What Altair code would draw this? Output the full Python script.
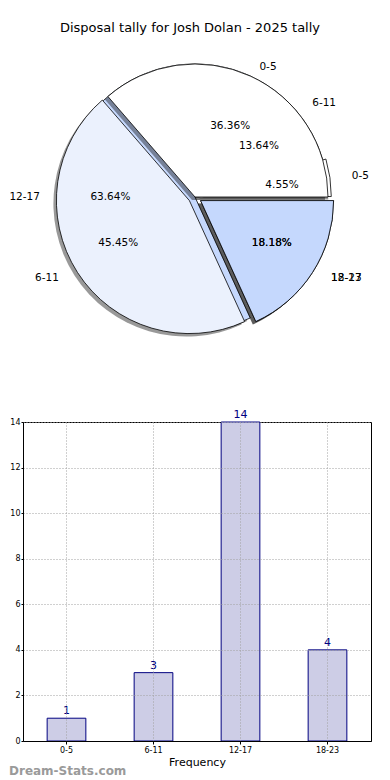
import altair as alt
import pandas as pd

# ---------------- data ----------------
categories = ["0-5", "6-11", "12-17", "18-23"]
counts = [1, 3, 14, 4]

# second (overlaid) pie as drawn in the reference
pie2_labels = ["0-5", "6-11", "12-17"]
pie2_counts = [8, 10, 4]

explode1 = [0.025, 0.0, 0.0, 0.05]
explode2 = [0.0, 0.05, 0.05]

wedge_colors = ["#ffffff", "#ebf1fd", "#c5d8fd", "#ffffff"]

title_text = "Disposal tally for Josh Dolan - 2025 tally"
x_title = "Frequency"
watermark = "Dream-Stats.com"

# ---------------- layout ----------------
FONT = "DejaVu Sans"
PW, PH = 348, 330          # pie panel
BW, BH = 348, 319          # bar panel
OX, OY = 22, 42            # page origin of the pie panel
CX, CY = 194 - OX, 196 - OY
R = 133
RX, RY = 141, 130


def pie_frame(labels, values, explode):
    return pd.DataFrame({
        "label": labels,
        "value": values,
        "idx": list(range(len(labels))),
        "explode": explode,
    })


def pie_base(df):
    return (
        alt.Chart(df)
        .transform_joinaggregate(total="sum(value)")
        .transform_window(cum="sum(value)", sort=[alt.SortField("idx")], frame=[None, 0])
        .transform_calculate(
            a_end="2*PI*datum.cum/datum.total",
            a_start="2*PI*(datum.cum-datum.value)/datum.total",
            mid="(datum.a_start+datum.a_end)/2",
            cx=f"{CX}+datum.explode*{R}*cos(datum.mid)",
            cy=f"{CY}-datum.explode*{R}*sin(datum.mid)",
            sx="datum.cx-3",
            sy="datum.cy+3",
            t1="PI/2-datum.a_end",
            t2="PI/2-datum.a_start",
            lx=f"datum.cx+1.1*{RX}*cos(datum.mid)",
            ly=f"datum.cy-1.1*{RY}*sin(datum.mid)",
            px=f"datum.cx+0.6*{RX}*cos(datum.mid)",
            py=f"datum.cy-0.6*{RY}*sin(datum.mid)",
            pct="format(100*datum.value/datum.total, '.2f') + '%'",
            right="cos(datum.mid) >= 0",
        )
    )


def pie_layers(df):
    b = pie_base(df)
    shadow = b.mark_arc(radius=R, fill="black", opacity=0.4).encode(
        x=alt.X("sx:Q", scale=None, axis=None),
        y=alt.Y("sy:Q", scale=None, axis=None),
        theta=alt.Theta("t1:Q", scale=None, stack=None),
        theta2="t2:Q",
    )
    wedges = b.mark_arc(radius=R, stroke="black", strokeWidth=0.8).encode(
        x=alt.X("cx:Q", scale=None, axis=None),
        y=alt.Y("cy:Q", scale=None, axis=None),
        theta=alt.Theta("t1:Q", scale=None, stack=None),
        theta2="t2:Q",
        fill=alt.Fill("idx:O", scale=alt.Scale(domain=[0, 1, 2, 3], range=wedge_colors), legend=None),
    )
    return shadow, wedges


def pie_texts(df):
    b = pie_base(df)
    tstyle = dict(font=FONT, fontSize=10.5, color="black", baseline="middle")
    pct = b.mark_text(align="center", **tstyle).encode(
        x=alt.X("px:Q", scale=None, axis=None),
        y=alt.Y("py:Q", scale=None, axis=None),
        text="pct:N",
    )
    lab_r = b.transform_filter("datum.right").mark_text(align="left", **tstyle).encode(
        x=alt.X("lx:Q", scale=None, axis=None),
        y=alt.Y("ly:Q", scale=None, axis=None),
        text="label:N",
    )
    lab_l = b.transform_filter("!datum.right").mark_text(align="right", **tstyle).encode(
        x=alt.X("lx:Q", scale=None, axis=None),
        y=alt.Y("ly:Q", scale=None, axis=None),
        text="label:N",
    )
    return pct, lab_r, lab_l


df1 = pie_frame(categories, counts, explode1)
df2 = pie_frame(pie2_labels, pie2_counts, explode2)

s1, w1 = pie_layers(df1)
s2, w2 = pie_layers(df2)
t1 = pie_texts(df1)
t2 = pie_texts(df2)

pie = alt.layer(s1, w1, s2, w2, *t1, *t2).properties(width=PW, height=PH)

# ---------------- bar chart ----------------
bar_df = pd.DataFrame({"cat": categories, "count": counts})
grid_style = dict(grid=True, gridDash=[1, 2], gridColor="#a0a0a0", gridWidth=1)

x_enc = alt.X(
    "cat:N", sort=categories,
    scale=alt.Scale(paddingInner=0.555, paddingOuter=0.2775),
    axis=alt.Axis(
        title=x_title, labelAngle=0, labelFont=FONT, labelFontSize=8, labelColor="black",
        labelPadding=2, tickSize=3, tickColor="black", bandPosition=0.5,
        titleFont=FONT, titleFontSize=11, titleFontWeight="normal", titleColor="black",
        titlePadding=2, domainColor="black", zindex=1, **grid_style,
    ),
)
y_enc = alt.Y(
    "count:Q",
    scale=alt.Scale(domain=[0, 14], nice=False),
    axis=alt.Axis(
        title=None, values=[0, 2, 4, 6, 8, 10, 12, 14], labelFont=FONT, labelFontSize=8,
        labelColor="black", labelPadding=1, tickSize=2, tickColor="black",
        domainColor="black", zindex=1, **grid_style,
    ),
)

bars = alt.Chart(bar_df).mark_bar(fill="#cdcde6", stroke="#000080", strokeWidth=1).encode(
    x=x_enc, y=y_enc
)
bar_labels = alt.Chart(bar_df).mark_text(
    baseline="alphabetic", dy=-4, color="#000080", font=FONT, fontSize=11
).encode(x=alt.X("cat:N", sort=categories), y="count:Q", text="count:Q")

wm = alt.Chart(pd.DataFrame({"t": [watermark]})).mark_text(
    align="left", baseline="alphabetic", font=FONT, fontSize=12, fontWeight="bold", color="#9a9a9a"
).encode(x=alt.value(-14), y=alt.value(BH + 34), text="t:N")

bar = alt.layer(bars, bar_labels, wm).properties(
    width=BW, height=BH, view=alt.ViewBackground(stroke="black", strokeWidth=1)
)

chart = (
    alt.vconcat(pie, bar, spacing=35)
    .properties(
        title=alt.Title(title_text, font=FONT, fontSize=13, fontWeight="normal", color="black",
                        anchor="middle", offset=8),
        padding={"left": 0, "top": 14, "right": 0, "bottom": 0},
    )
    .configure_view(stroke=None)
)

chart.save("out.html", embed_options={"renderer": "svg", "actions": False})
